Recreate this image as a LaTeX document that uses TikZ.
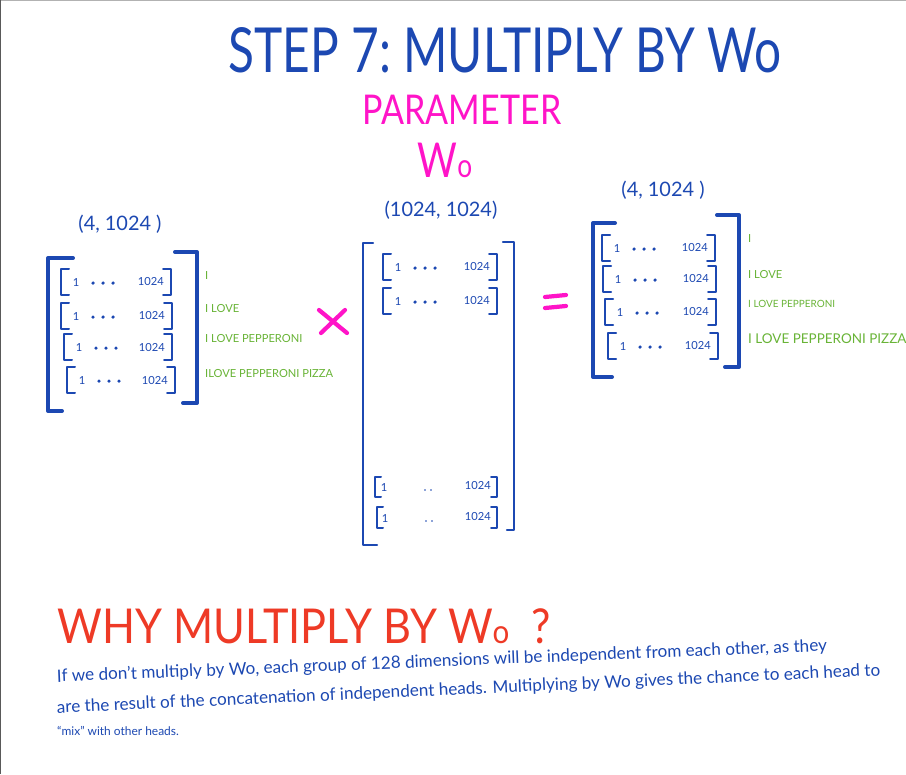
\documentclass[tikz,border=0pt]{standalone}
\usepackage{fontspec}
\setmainfont{Lato}
\usetikzlibrary{calc}
\definecolor{penblue}{RGB}{28,72,178}
\definecolor{penpink}{RGB}{255,20,200}
\definecolor{pengreen}{RGB}{105,180,55}
\definecolor{penred}{RGB}{238,58,38}
\tikzset{
	bigbrak/.style={line width=3.4pt, line cap=round, line join=round, color=penblue},
	midbrak/.style={line width=2pt, line cap=round, line join=round, color=penblue},
	rowbrak/.style={line width=1.7pt, line cap=round, line join=round, color=penblue},
	sign/.style={line width=3.6pt, line cap=round, color=penpink},
	entry/.style={inner sep=0pt, text=penblue, font=\fontsize{9.5}{11}\selectfont},
	said/.style={anchor=base west, inner sep=0pt, text=pengreen},
	shapelbl/.style={inner sep=0pt, text=penblue, font=\fontsize{17}{20}\selectfont},
	note/.style={anchor=base west, inner sep=0pt, text=penblue, font=\fontsize{14.6}{16}\selectfont}
}
% one row vector [ 1 ... 1024 ]
\def\rowvec[#1](#2:#3:#4){
	\draw[rowbrak] ({#2+8},{#4-13}) -- (#2,{#4-13}) -- (#2,{#4+13}) -- ({#2+8},{#4+13});
	\draw[rowbrak] ({#3-8},{#4-13}) -- (#3,{#4-13}) -- (#3,{#4+13}) -- ({#3-8},{#4+13});
	\node[entry] (#1-one) at ({#2+15},#4) {1};
	\node[entry, anchor=east] (#1-last) at ({#3-7},#4) {1024};
	\foreach \d in {32,42,52} \fill[penblue] ({#2+\d},{#4+1}) circle (1.5pt);
}

\begin{document}
\begin{tikzpicture}[x=0.03cm, y=-0.03cm]
	%%%%% START %%%%%
	\useasboundingbox (0,0) rectangle (906,774);
	\fill[white] (0,0) rectangle (906,774);
	\draw[gray!60, line width=1.5pt] (0,0) -- (906,0);
	\draw[gray!70!black, line width=1pt] (0,0) -- (0,774);

	\node[text=penblue, font=\fontsize{53}{60}\selectfont] (title) at (505,50) {\scalebox{0.77}[1]{STEP 7:\ MULTIPLY BY Wo}};
	\node[text=penpink, font=\fontsize{35}{40}\selectfont] (param) at (462,110) {\scalebox{0.83}[1]{PARAMETER}};
	\node[text=penpink, font=\fontsize{41}{46}\selectfont] (wo) at (445,160) {\scalebox{0.8}[1]{W{\fontsize{28}{30}\selectfont o}}};

	% left matrix (4, 1024)
	\node[shapelbl] (lshape) at (120,224) {(4, 1024 )};
	\draw[bigbrak] (73,258) -- (48,258) -- (48,411) -- (62,411);
	\draw[bigbrak] (175,252) -- (197,252) -- (197,403) -- (183,403);
	\rowvec[l1](61:171:282)
	\rowvec[l2](61:172:316)
	\rowvec[l3](64:172:347)
	\rowvec[l4](67:175:380)
	\node[said, font=\fontsize{9.5}{11}\selectfont] (lsaid1) at (205,279) {I};
	\node[said, font=\fontsize{9.5}{11}\selectfont] (lsaid2) at (205,312) {I LOVE};
	\node[said, font=\fontsize{9.5}{11}\selectfont] (lsaid3) at (205,342) {I LOVE PEPPERONI};
	\node[said, font=\fontsize{9.5}{11}\selectfont] (lsaid4) at (205,377) {ILOVE PEPPERONI PIZZA};

	\draw[sign] (319,310) -- (347,333);
	\draw[sign] (345,310) -- (321,333);

	% middle matrix Wo (1024, 1024)
	\node[shapelbl] (mshape) at (441,210) {(1024, 1024)};
	\draw[midbrak] (373,243) -- (363,243) -- (363,545) -- (377,545);
	\draw[midbrak] (503,242) -- (514,242) -- (514,530) -- (507,530);
	\rowvec[m1](383:497:267)
	\rowvec[m2](383:497:301)
	\draw[rowbrak] (381,477) -- (375,477) -- (375,497) -- (381,497);
	\draw[rowbrak] (491,477) -- (497,477) -- (497,497) -- (491,497);
	\node[entry] (m3-one) at (384,487) {1};
	\node[entry, anchor=east] (m3-last) at (491,485) {1024};
	\fill[penblue] (425,490) circle (0.8pt) (431,490) circle (0.8pt);
	\draw[rowbrak] (383,507) -- (377,507) -- (377,528) -- (383,528);
	\draw[rowbrak] (491,507) -- (497,507) -- (497,528) -- (491,528);
	\node[entry] (m4-one) at (385,518) {1};
	\node[entry, anchor=east] (m4-last) at (491,516) {1024};
	\fill[penblue] (426,521) circle (0.8pt) (432,521) circle (0.8pt);

	\draw[sign] (545,297) -- (566,295);
	\draw[sign] (545,308) -- (566,306);

	% right matrix (4, 1024)
	\node[shapelbl] (rshape) at (663,190) {(4, 1024 )};
	\draw[bigbrak] (615,223) -- (593,223) -- (593,377) -- (612,377);
	\draw[bigbrak] (717,215) -- (739,215) -- (739,367) -- (725,367);
	\rowvec[r1](602:715:248)
	\rowvec[r2](603:716:279)
	\rowvec[r3](605:716:312)
	\rowvec[r4](608:718:346)
	\node[said, font=\fontsize{9.5}{11}\selectfont] (rsaid1) at (748,242) {I};
	\node[said, font=\fontsize{9.5}{11}\selectfont] (rsaid2) at (748,278) {I LOVE};
	\node[said, font=\fontsize{8.5}{10}\selectfont] (rsaid3) at (748,307) {I LOVE PEPPERONI};
	\node[said, font=\fontsize{11.5}{13}\selectfont] (rsaid4) at (748,343) {I LOVE PEPPERONI PIZZA};

	% why
	\node[anchor=base west, inner sep=0pt, text=penred, font=\fontsize{41}{46}\selectfont] (why) at (57,643) {\scalebox{0.9}[1]{WHY MULTIPLY BY W{\fontsize{28}{30}\selectfont o}\ \ ?}};
	\node[note, rotate=2.3] (line1) at (57,682) {If we don't multiply by Wo, each group of 128 dimensions will be independent from each other, as they};
	\node[note, rotate=2.6] (line2) at (57,713) {are the result of the concatenation of independent heads. Multiplying by Wo gives the chance to each head to};
	\node[note, font=\fontsize{10.2}{12}\selectfont] (line3) at (57,735) {``mix'' with other heads.};
	%%%%% END %%%%%
\end{tikzpicture}
\end{document}
